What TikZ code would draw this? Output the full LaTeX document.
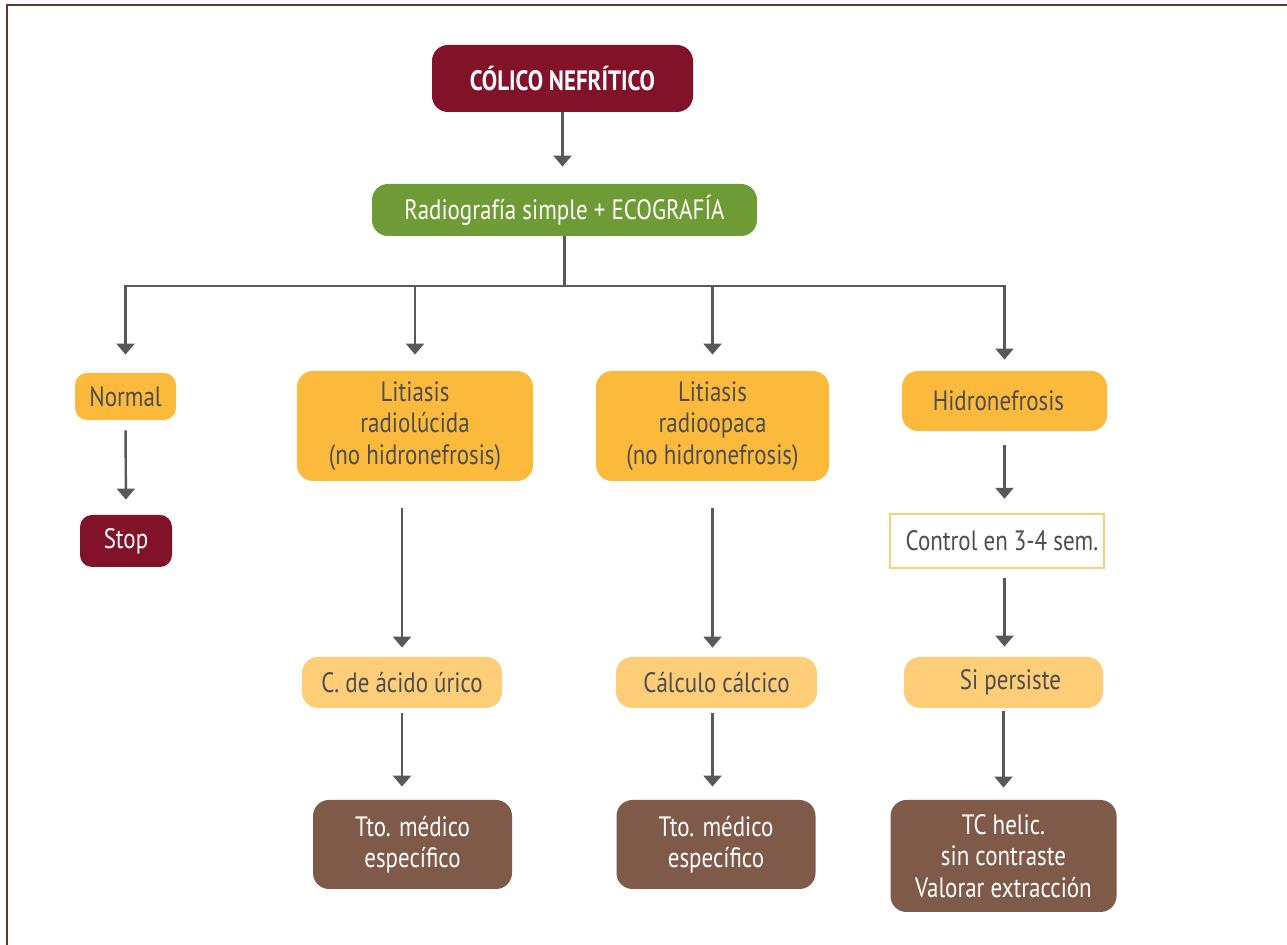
\documentclass[tikz,border=0pt]{standalone}
\usepackage{fontspec}
\setmainfont{PT Sans}[FakeStretch=0.82]
\usetikzlibrary{arrows.meta}
\definecolor{cred}{HTML}{82112A}
\definecolor{cgreen}{HTML}{6E9B35}
\definecolor{camber}{HTML}{FBBA3B}
\definecolor{clight}{HTML}{FDCD78}
\definecolor{cbrown}{HTML}{7F5A48}
\definecolor{cgray}{HTML}{58595B}
\definecolor{ctext}{HTML}{4D4D4F}
\definecolor{cframe}{HTML}{5E3A2C}
\begin{document}
\begin{tikzpicture}[x=0.5pt,y=-0.5pt,
  box/.style={rounded corners=8pt, inner sep=0pt, align=center,
    font=\fontsize{14}{15.75}\selectfont},
  redbox/.style={box, fill=cred, text=white},
  greenbox/.style={box, fill=cgreen, text=white},
  amberbox/.style={box, fill=camber, text=ctext},
  lightbox/.style={box, fill=clight, text=ctext},
  brownbox/.style={box, fill=cbrown, text=white},
  framebox/.style={box, rounded corners=0pt, fill=white, draw=clight, line width=1.2pt, text=ctext},
  conn/.style={draw=cgray, line width=1.2pt},
  arr/.style={conn, -{Triangle[width=9pt,length=5.5pt]}},
]
\useasboundingbox (0,0) rectangle (1287,945);
\fill[white] (0,0) rectangle (1287,945);
\draw[cframe, line width=1pt] (7,945) -- (7,5.5) -- (1287,5.5);

\node[redbox, minimum width=130.5pt, minimum height=33.5pt,
  font={\fontsize{14}{15.75}\selectfont\bfseries}] (colico) at (562.5,78.5) {CÓLICO NEFRÍTICO};
\node[greenbox, minimum width=192.5pt, minimum height=26pt] (radio) at (564.5,210) {Radiografía simple + ECOGRAFÍA};

\node[amberbox, rounded corners=6pt, minimum width=50.5pt, minimum height=23.5pt] (normal) at (125.5,396.5) {Normal};
\node[redbox, rounded corners=6pt, minimum width=46pt, minimum height=26pt] (stop) at (126,541) {Stop};

\node[amberbox, minimum width=118pt, minimum height=55pt] (lit1) at (415,426) {Litiasis\\radiolúcida\\(no hidronefrosis)};
\node[amberbox, minimum width=116.5pt, minimum height=55pt] (lit2) at (712.5,426) {Litiasis\\radioopaca\\(no hidronefrosis)};
\node[amberbox, minimum width=102.5pt, minimum height=30pt] (hidro) at (1004.5,401) {Hidronefrosis\hspace*{6pt}};

\node[framebox, minimum width=107pt, minimum height=27pt] (control) at (997,541) {\hspace*{5pt}Control en 3-4 sem.};

\node[lightbox, minimum width=100pt, minimum height=25.5pt] (acido) at (402,682.5) {C. de ácido úrico};
\node[lightbox, minimum width=100.5pt, minimum height=25.5pt] (calcico) at (716.5,682.5) {Cálculo cálcico};
\node[lightbox, minimum width=99.5pt, minimum height=25.5pt] (persiste) at (1003.5,682.5) {\hspace*{7pt}Si persiste};

\node[brownbox, minimum width=99.5pt, minimum height=44.5pt] (tto1) at (412.5,844.5) {Tto. médico\\específico};
\node[brownbox, minimum width=99.5pt, minimum height=44.5pt] (tto2) at (716,844.5) {Tto. médico\\específico};
\node[brownbox, minimum width=113pt, minimum height=56pt] (tc) at (1003.5,856) {TC helic.\\sin contraste\\Valorar extracción};

\coordinate (bus) at (566,286);

\draw[arr, shorten >=8.5pt] (colico.south) -- (colico.south |- radio.north);
\draw[conn] (radio.south) -- (radio.south |- bus);
\draw[arr, shorten >=9pt] (radio.south |- bus) -| (normal.north);
\draw[arr, shorten >=8pt] (radio.south |- bus) -| (lit1.north);
\draw[arr, shorten >=8pt] (radio.south |- bus) -| (lit2.north);
\draw[arr, shorten >=5.5pt] (radio.south |- bus) -| (hidro.north);

\draw[arr, shorten <=5pt, shorten >=7.5pt] (normal.south) -- (stop.north);

\draw[arr, shorten <=13.5pt, shorten >=4.5pt] (acido |- lit1.south) -- (acido.north);
\draw[arr, shorten <=2.5pt, shorten >=6.5pt] (acido.south) -- (acido.south |- tto1.north);

\draw[arr, shorten <=13.5pt, shorten >=4.5pt] (lit2.south) -- (lit2.south |- calcico.north);
\draw[arr, shorten <=2.5pt, shorten >=6.5pt] (lit2.south |- calcico.south) -- (lit2.south |- tto2.north);

\draw[arr, shorten <=7pt, shorten >=7pt] (hidro.south) -- (hidro.south |- control.north);
\draw[arr, shorten <=4.5pt, shorten >=5pt] (hidro.south |- control.south) -- (hidro.south |- persiste.north);
\draw[arr, shorten <=1.5pt, shorten >=6pt] (persiste.south) -- (persiste.south |- tc.north);
\end{tikzpicture}
\end{document}
